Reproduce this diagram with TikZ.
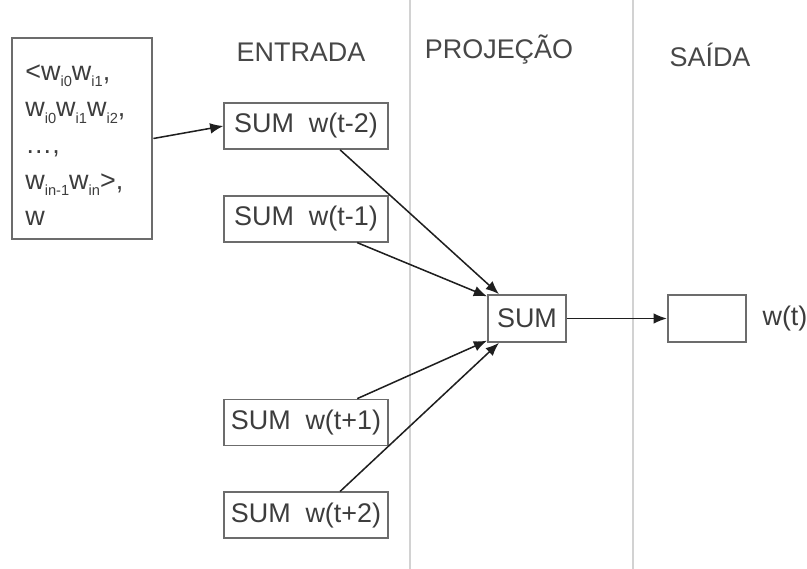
\documentclass[tikz,border=0pt]{standalone}
\usepackage{fontspec}
\setmainfont{Liberation Sans}
\usetikzlibrary{arrows.meta,positioning}

\newcommand{\wsub}[1]{\raisebox{-0.45ex}{\fontsize{12.5}{13}\selectfont #1}}

\begin{document}
\begin{tikzpicture}[
    x=0.03cm, y=-0.03cm,
    every node/.style={font=\fontsize{23}{27}\selectfont, text=black!76},
    sumbox/.style={draw=gray!85!black, rectangle, line width=1.5pt,
                   minimum width=4.9cm, minimum height=1.38cm, inner sep=2pt},
    projbox/.style={draw=gray!85!black, rectangle, line width=1.5pt,
                    minimum width=2.34cm, minimum height=1.41cm, inner sep=2pt},
    ctxbox/.style={draw=gray!85!black, rectangle, line width=2.4pt, align=left,
                   font=\fontsize{23}{31}\selectfont,
                   text width=3.4cm, inner xsep=0.4cm,
                   minimum width=4.2cm, minimum height=6.03cm},
    header/.style={font=\fontsize{23}{27}\selectfont, text=black!72},
    divider/.style={gray!35, line width=1.2pt},
    arrow/.style={-{Latex[length=4mm, width=3.2mm]}, line width=1.3pt, black!88}
]
\useasboundingbox (0,0) rectangle (807,569);

% column dividers
\draw[divider] (410,0) -- (410,569);
\draw[divider] (633,0) -- (633,569);

\node[header] (hin) at (301,52) {ENTRADA};
\node[header] (hproj) at (499,50) {PROJEÇÃO};
\node[header] (hout) at (710,55) {SAÍDA};

\node[ctxbox] (ctx) at (82,138.5)
    {\rule{0pt}{25pt}<w\wsub{i0}w\wsub{i1},\\
     w\wsub{i0}w\wsub{i1}w\wsub{i2},\\
     \ldots,\\
     w\wsub{in-1}w\wsub{in}>,\\
     w};

\node[sumbox] (m2) at (306,126) {SUM\hspace{0.55em}w(t-2)};
\node[sumbox, below=1.35cm of m2] (m1) {SUM\hspace{0.55em}w(t-1)};
\node[sumbox, below=4.68cm of m1] (p1) {SUM\hspace{0.55em}w(t+1)};
\node[sumbox, below=1.35cm of p1] (p2) {SUM\hspace{0.55em}w(t+2)};

\node[projbox] (proj) at (527,318.5) {SUM};
\node[projbox, right=3.0cm of proj] (out) {};
\node[right=0.4cm of out, inner xsep=2pt] (wt) {w(t)};

\draw[arrow] (ctx.east) -- (m2.west);
\foreach \a/\b in {m2.-35/proj.139, m1.-25/proj.151, p1.25/proj.209, p2.35/proj.221}
    \draw[arrow] (\a) -- (\b);
\draw[arrow] (proj) -- (out);
\end{tikzpicture}
\end{document}
